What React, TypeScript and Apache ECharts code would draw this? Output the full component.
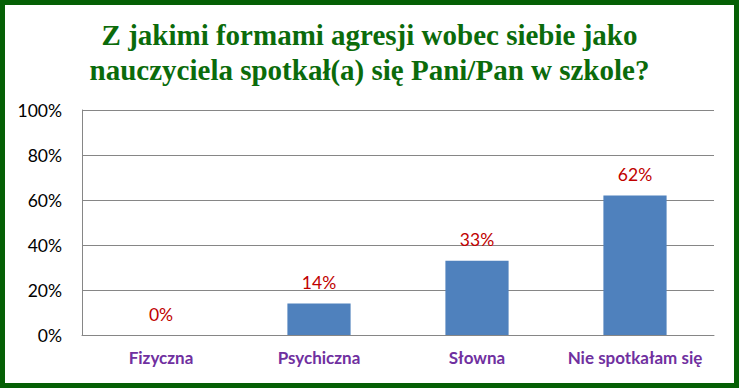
import React, { useEffect, useRef } from "react";
import * as echarts from "echarts";

const titleLines = [
  "Z jakimi formami agresji wobec siebie jako",
  "nauczyciela spotkał(a) się Pani/Pan w szkole?",
];
const categories = ["Fizyczna", "Psychiczna", "Słowna", "Nie spotkałam się"];
const values = [0, 14, 33, 62];

export default function App() {
  const ref = useRef<HTMLDivElement>(null);
  useEffect(() => {
    document.body.style.margin = "0";
    const chart = echarts.init(ref.current!, null, { renderer: "svg" });
    chart.setOption({
      animation: false,
      backgroundColor: "#ffffff",
      title: {
        text: titleLines.join("\n"),
        left: "center",
        top: 12,
        textStyle: {
          fontFamily: "Liberation Serif",
          fontWeight: "bold",
          fontSize: 29,
          lineHeight: 35,
          color: "#0b6b0b",
        },
      },
      graphic: [
        {
          type: "rect",
          shape: { x: 2.5, y: 2.5, width: 734, height: 383 },
          style: { fill: "none", stroke: "#056005", lineWidth: 5 },
          z: 100,
        },
      ],
      grid: { left: 82, right: 25, top: 110, bottom: 53 },
      xAxis: {
        type: "category",
        data: categories,
        axisLine: { lineStyle: { color: "#868686" } },
        axisTick: { show: false },
        axisLabel: {
          interval: 0,
          hideOverlap: false,
          margin: 14,
          color: "#7030A0",
          fontWeight: "bold",
          fontSize: 17,
          fontFamily: "Lato",
        },
      },
      yAxis: {
        type: "value",
        min: 0,
        max: 100,
        interval: 20,
        axisLine: { show: true, lineStyle: { color: "#868686" } },
        axisTick: { show: false },
        splitLine: { lineStyle: { color: "#868686" } },
        axisLabel: {
          formatter: "{value}%",
          margin: 20,
          color: "#000000",
          fontSize: 17.5,
          fontFamily: "Lato",
        },
      },
      series: [
        {
          type: "bar",
          data: values,
          barWidth: "40%",
          itemStyle: { color: "#4F81BD" },
          label: {
            show: true,
            position: "top",
            distance: 12,
            formatter: "{c}%",
            color: "#C00000",
            fontSize: 17.5,
            fontFamily: "Lato",
          },
        },
      ],
    });
    return () => chart.dispose();
  }, []);
  return <div ref={ref} style={{ width: 739, height: 388 }} />;
}
